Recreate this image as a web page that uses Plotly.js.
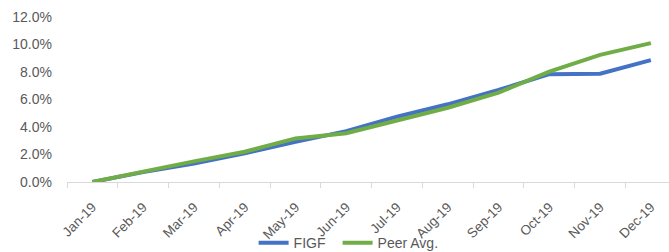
<!DOCTYPE html>
<html>
<head>
<meta charset="utf-8">
<script src="https://cdn.plot.ly/plotly-3.0.1.min.js"></script>
<style>html,body{margin:0;padding:0;overflow:hidden;background:#fff}#chart{width:669px;height:252px}</style>
</head>
<body>
<div id="chart"></div>
<script>
var months = ["Jan-19","Feb-19","Mar-19","Apr-19","May-19","Jun-19","Jul-19","Aug-19","Sep-19","Oct-19","Nov-19","Dec-19"];
var figf = [0.0, 0.0072, 0.0135, 0.0208, 0.0292, 0.037, 0.0475, 0.0565, 0.067, 0.0784, 0.0788, 0.0886];
var peer = [0.0, 0.0077, 0.015, 0.022, 0.0317, 0.0355, 0.045, 0.054, 0.065, 0.0803, 0.0925, 0.101];
var seriesNames = ["FIGF", "Peer Avg."];
var yTickVals = [0, 0.02, 0.04, 0.06, 0.08, 0.10, 0.12];

var traces = [
  {x: months, y: figf, name: seriesNames[0], type: 'scatter', mode: 'lines',
   line: {color: '#4472C4', width: 4}, legend: 'legend'},
  {x: months, y: peer, name: seriesNames[1], type: 'scatter', mode: 'lines',
   line: {color: '#70AD47', width: 4}, legend: 'legend2'}
];
var font = {family: 'Liberation Sans, Arial, sans-serif', size: 14, color: '#595959'};
var xFont = {family: font.family, size: 13.5, color: '#595959'};
var legFont = {family: font.family, size: 14, color: '#595959'};
var layout = {
  width: 669, height: 252,
  margin: {l: 67, r: 0, t: 17, b: 70, pad: 0, autoexpand: false},
  paper_bgcolor: '#fff', plot_bgcolor: '#fff',
  font: font,
  showlegend: true,
  legend: {orientation: 'h', x: 0.31, xanchor: 'left', y: -0.37, yanchor: 'middle',
           font: legFont, bgcolor: 'rgba(0,0,0,0)'},
  legend2: {orientation: 'h', x: 0.4495, xanchor: 'left', y: -0.37, yanchor: 'middle',
           font: legFont, bgcolor: 'rgba(0,0,0,0)'},
  xaxis: {type: 'category', range: [-0.5, 11.357], showgrid: false, zeroline: false,
          showline: true, linecolor: '#D9D9D9', linewidth: 1, automargin: false,
          ticks: 'outside', tickson: 'boundaries', ticklen: 5, tickcolor: '#D9D9D9',
          tickangle: -45, tickfont: xFont, ticklabelstandoff: 11, fixedrange: true},
  yaxis: {range: [0, 0.12], tickvals: yTickVals, tickformat: '.1%', showgrid: false,
          automargin: false, zeroline: false, showline: false, ticks: '', tickfont: font,
          ticklabelstandoff: 14, fixedrange: true}
};
Plotly.newPlot('chart', traces, layout, {displayModeBar: false, staticPlot: true});
</script>
</body>
</html>
